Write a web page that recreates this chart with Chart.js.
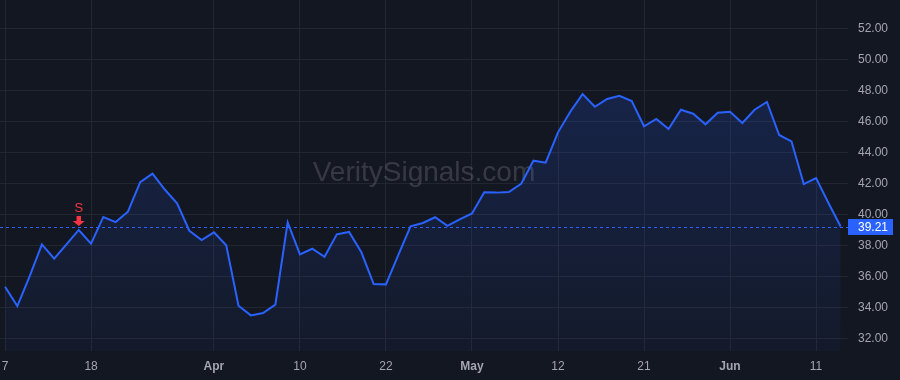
<!DOCTYPE html>
<html>
<head>
<meta charset="utf-8">
<script src="https://cdn.jsdelivr.net/npm/chart.js@4.4.1/dist/chart.umd.min.js"></script>
<style>
  html, body { margin: 0; padding: 0; background: #131722; }
  canvas { display: block; }
</style>
</head>
<body>
<canvas id="grafico" width="900" height="380"></canvas>
<script>
// closing prices, one per trading day
const precos = [35.33, 34.08, 36.0, 38.06, 37.14, 38.06, 38.99, 38.1, 39.83, 39.5,
    40.17, 42.08, 42.62, 41.6, 40.71, 38.94, 38.34, 38.84, 38.0, 34.1,
    33.48, 33.63, 34.17, 39.48, 37.42, 37.78, 37.26, 38.71, 38.86, 37.55,
    35.5, 35.48, 37.37, 39.23, 39.44, 39.81, 39.25, 39.68, 40.06, 41.42,
    41.4, 41.44, 41.97, 43.46, 43.33, 45.29, 46.62, 47.76, 46.94, 47.44,
    47.65, 47.31, 45.68, 46.15, 45.5, 46.75, 46.49, 45.81, 46.56, 46.62,
    45.89, 46.75, 47.25, 45.12, 44.71, 41.95, 42.34, 40.75, 39.21];

const ticksX = [0, 7, 17, 24, 31, 38, 45, 52, 59, 66];
const labelsX = ['7', '18', 'Apr', '10', '22', 'May', '12', '21', 'Jun', '11'];
const meses = ['Apr', 'May', 'Jun'];
const ticksY = [32, 34, 36, 38, 40, 42, 44, 46, 48, 50, 52];

const sinalIndice = [6];
const sinalTexto = ['S'];
const ultimoPreco = precos[precos.length - 1];

const fonte = '"Liberation Sans", Arial, sans-serif';
const corTexto = '#a3a6af';
const corGrade = '#22262f';
const azul = '#2962ff';
const vermelho = '#f23645';

const fundo = {
    id: 'fundo',
    beforeDraw(chart) {
        const c = chart.ctx;
        c.save();
        c.fillStyle = '#131722';
        c.fillRect(0, 0, chart.width, chart.height);
        c.restore();
    }
};

const marcaDagua = {
    id: 'marcaDagua',
    beforeDatasetsDraw(chart) {
        const c = chart.ctx;
        const area = chart.chartArea;
        c.save();
        c.font = '28px ' + fonte;
        c.fillStyle = 'rgba(255,255,255,0.15)';
        c.textAlign = 'center';
        c.textBaseline = 'middle';
        c.fillText('VeritySignals.com', (area.left + area.right) / 2, (area.top + area.bottom) / 2 - 2);
        c.restore();
    }
};

const linhaPreco = {
    id: 'linhaPreco',
    afterDatasetsDraw(chart) {
        const c = chart.ctx;
        const area = chart.chartArea;
        const y = Math.round(chart.scales.y.getPixelForValue(ultimoPreco)) + 0.5;
        c.save();
        c.strokeStyle = azul;
        c.lineWidth = 1;
        c.setLineDash([3, 3]);
        c.beginPath();
        c.moveTo(area.left, y);
        c.lineTo(area.right, y);
        c.stroke();
        c.setLineDash([]);
        c.fillStyle = azul;
        c.fillRect(area.right, y - 8.5, 45, 16);
        c.fillStyle = '#ffffff';
        c.font = '12px ' + fonte;
        c.textBaseline = 'middle';
        c.textAlign = 'left';
        c.fillText(ultimoPreco.toFixed(2), area.right + 10, y);
        c.restore();
    }
};

const sinais = {
    id: 'sinais',
    afterDatasetsDraw(chart) {
        const c = chart.ctx;
        c.save();
        c.fillStyle = vermelho;
        for (let i = 0; i < sinalIndice.length; i++) {
            const k = sinalIndice[i];
            const x = chart.scales.x.getPixelForValue(k);
            const y = chart.scales.y.getPixelForValue(precos[k]);
            const ponta = y - 4;
            c.fillRect(x - 2.25, ponta - 10, 4.5, 5.5);
            c.beginPath();
            c.moveTo(x - 6, ponta - 5);
            c.lineTo(x + 6, ponta - 5);
            c.lineTo(x, ponta);
            c.closePath();
            c.fill();
            c.font = '13px ' + fonte;
            c.textAlign = 'center';
            c.textBaseline = 'middle';
            c.fillText(sinalTexto[i], x, ponta - 18);
        }
        c.restore();
    }
};

// no automatic label padding, the plot must reach the canvas edges
function semPadding(s) {
    s.paddingTop = 0;
    s.paddingBottom = 0;
    s.paddingLeft = 0;
    s.paddingRight = 0;
}

function criaGrafico() {
    const canvas = document.getElementById('grafico');
    new Chart(canvas, {
        type: 'line',
        data: {
            datasets: [{
                data: precos.map((p, i) => ({ x: i, y: p })),
                borderColor: azul,
                borderWidth: 2,
                pointRadius: 0,
                tension: 0,
                fill: 'start',
                backgroundColor: (ctx) => {
                    const area = ctx.chart.chartArea;
                    if (!area) return 'rgba(41,98,255,0.1)';
                    const g = ctx.chart.ctx.createLinearGradient(0, area.top, 0, area.bottom);
                    g.addColorStop(0, 'rgba(41,98,255,0.22)');
                    g.addColorStop(1, 'rgba(41,98,255,0.04)');
                    return g;
                }
            }]
        },
        options: {
            responsive: false,
            animation: false,
            devicePixelRatio: 1,
            layout: { padding: 0 },
            plugins: { legend: { display: false }, tooltip: { enabled: false } },
            scales: {
                x: {
                    type: 'linear',
                    min: -0.41,
                    max: 68.6,
                    afterBuildTicks: (s) => { s.ticks = ticksX.map(v => ({ value: v })); },
                    afterFit: (s) => { s.height = 29; semPadding(s); },
                    grid: { color: corGrade, drawTicks: false },
                    border: { display: false },
                    ticks: {
                        autoSkip: false,
                        maxRotation: 0,
                        padding: 8,
                        color: corTexto,
                        font: (ctx) => {
                            const v = ctx.tick ? ctx.tick.value : -1;
                            const lab = labelsX[ticksX.indexOf(v)];
                            return { family: fonte, size: 12, weight: meses.includes(lab) ? 'bold' : 'normal' };
                        },
                        callback: (v) => labelsX[ticksX.indexOf(v)]
                    }
                },
                y: {
                    position: 'right',
                    min: 31.18,
                    max: 53.83,
                    afterBuildTicks: (s) => { s.ticks = ticksY.map(v => ({ value: v })); },
                    afterFit: (s) => { s.width = 52; semPadding(s); },
                    grid: { color: corGrade, drawTicks: false },
                    border: { display: false },
                    ticks: {
                        padding: 10,
                        color: corTexto,
                        font: { family: fonte, size: 12 },
                        callback: (v) => v.toFixed(2)
                    }
                }
            }
        },
        plugins: [fundo, marcaDagua, linhaPreco, sinais]
    });
}

criaGrafico();
</script>
</body>
</html>
